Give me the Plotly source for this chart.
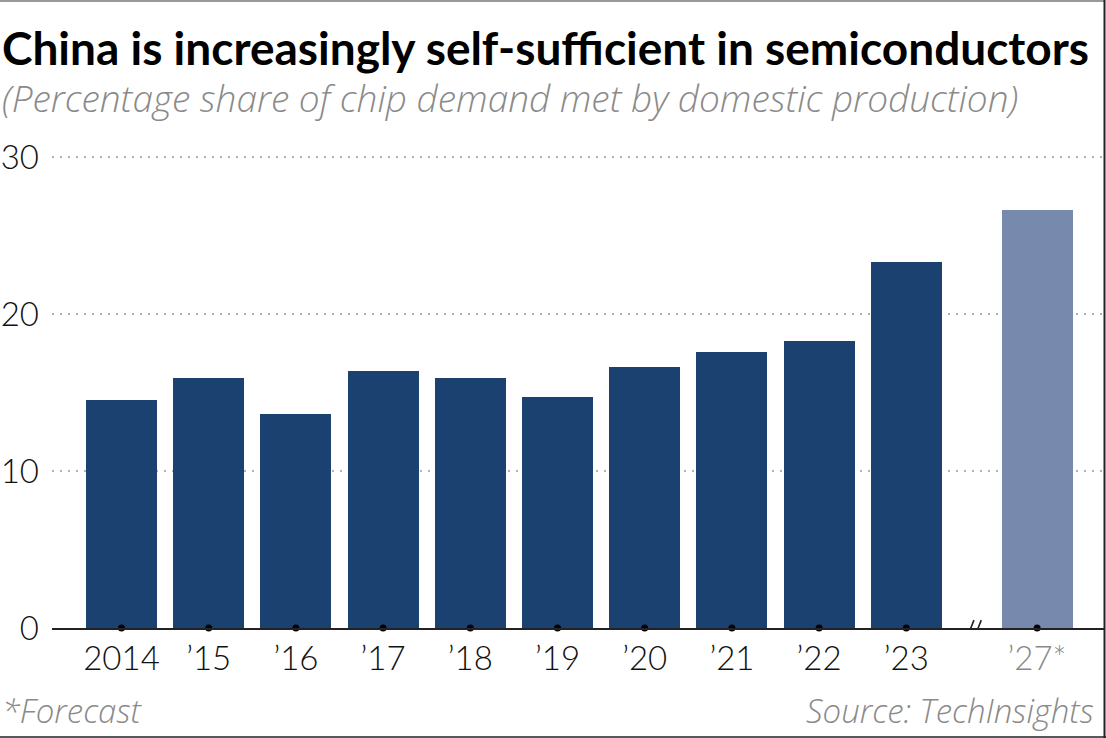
import plotly.graph_objects as go

# ---- data ----
categories = ["2014", "\u201915", "\u201916", "\u201917", "\u201918", "\u201919", "\u201920",
              "\u201921", "\u201922", "\u201923", "\u201927*"]
values = [14.5, 15.9, 13.6, 16.4, 15.9, 14.7, 16.6, 17.6, 18.3, 23.3, 26.6]
is_forecast = [False] * 10 + [True]
y_ticks = [0, 10, 20, 30]

title = "China is increasingly self-sufficient in semiconductors"
subtitle = "(Percentage share of chip demand met by domestic production)"
note = "*Forecast"
source = "Source: TechInsights"

# ---- styles ----
BAR = "#1a4170"
BAR_F = "#7889ae"
GRAY = "#8a8a8a"
FONT = "Lato"
FONT2 = "Open Sans"
W, H = 1106, 738
ML, MR, MT, MB = 52, 2, 150, 110
PW, PH = W - ML - MR, H - MT - MB
YMAX = PH / 15.7  # 10 units = 157 px
SLOT = 87.2
X0 = -(121.5 - ML) / SLOT
X1 = X0 + PW / SLOT


def px_x(px):
    return (px - ML) / PW


def px_y(py):
    return (H - MB - py) / PH


# positions: forecast bars placed after a half-slot gap
positions = []
gap = 0.0
for i, f in enumerate(is_forecast):
    if f and (i == 0 or not is_forecast[i - 1]):
        gap += 0.5
    positions.append(i + gap)

colors = [BAR_F if f else BAR for f in is_forecast]
ticktext = [f"<span style='color:{GRAY}'>{c}</span>" if f else c
            for c, f in zip(categories, is_forecast)]

fig = go.Figure()
fig.add_trace(go.Bar(x=positions, y=values, width=0.814, marker=dict(color=colors, line=dict(width=0)),
                     hoverinfo="skip"))
fig.add_trace(go.Scatter(x=positions, y=[0] * len(positions), mode="markers",
                         marker=dict(color="#000", size=7), cliponaxis=False, hoverinfo="skip"))

# axis break marks between last actual and first forecast
first_f = is_forecast.index(True)
bx = (positions[first_f - 1] + positions[first_f]) / 2 + 0.03
for off in (-0.042, 0.042):
    fig.add_shape(type="line", xref="x", yref="y",
                  x0=bx + off - 0.038, y0=-0.55, x1=bx + off + 0.038, y1=0.5,
                  line=dict(color="#222", width=1.6))

fig.update_layout(
    width=W, height=H,
    margin=dict(l=ML, r=MR, t=MT, b=MB),
    paper_bgcolor="white", plot_bgcolor="white",
    showlegend=False,
    bargap=0,
    font=dict(family=FONT, color="#111"),
    xaxis=dict(range=[X0, X1], tickmode="array", tickvals=positions, ticktext=ticktext,
               showgrid=False, zeroline=False, showline=True, linecolor="#222", linewidth=1.5,
               ticks="", ticklabelstandoff=1,
               tickfont=dict(family=FONT, size=33, color="#111", weight=300)),
    yaxis=dict(range=[0, YMAX], tickmode="array", tickvals=y_ticks, ticktext=[str(t) for t in y_ticks],
               showgrid=True, gridcolor="#b0b0b0", griddash="2px,6px", gridwidth=2,
               zeroline=False, showline=False, ticks="", ticklabelstandoff=12,
               tickfont=dict(family=FONT, size=33, color="#111", weight=300)),
)

fig.add_annotation(text=f"<b>{title}</b>", xref="paper", yref="paper", x=px_x(0), y=px_y(47),
                   xanchor="left", yanchor="middle", showarrow=False,
                   font=dict(family=FONT, size=46, color="#000"))
fig.add_annotation(text=f"<i>{subtitle}</i>", xref="paper", yref="paper", x=px_x(0), y=px_y(97),
                   xanchor="left", yanchor="middle", showarrow=False,
                   font=dict(family=FONT2, size=37, color=GRAY, weight=300))
fig.add_annotation(text=f"<i>{note}</i>", xref="paper", yref="paper", x=px_x(0), y=px_y(710),
                   xanchor="left", yanchor="middle", showarrow=False,
                   font=dict(family=FONT2, size=33, color=GRAY, weight=300))
fig.add_annotation(text=f"<i>{source}</i>", xref="paper", yref="paper", x=px_x(1096), y=px_y(710),
                   xanchor="right", yanchor="middle", showarrow=False,
                   font=dict(family=FONT2, size=33, color=GRAY, weight=300))

# frame lines
fig.add_shape(type="line", xref="paper", yref="paper", x0=px_x(0), x1=px_x(1104), y0=px_y(1), y1=px_y(1),
              line=dict(color="#777", width=1.5))
fig.add_shape(type="line", xref="paper", yref="paper", x0=px_x(1104.5), x1=px_x(1104.5), y0=px_y(0), y1=px_y(738),
              line=dict(color="#222", width=2))
fig.add_shape(type="line", xref="paper", yref="paper", x0=px_x(0), x1=px_x(1106), y0=px_y(737), y1=px_y(737),
              line=dict(color="#222", width=1.5))

fig.write_html("out.html", config={"displayModeBar": False},
               post_script="document.body.style.margin='0';document.body.style.overflow='hidden';")
